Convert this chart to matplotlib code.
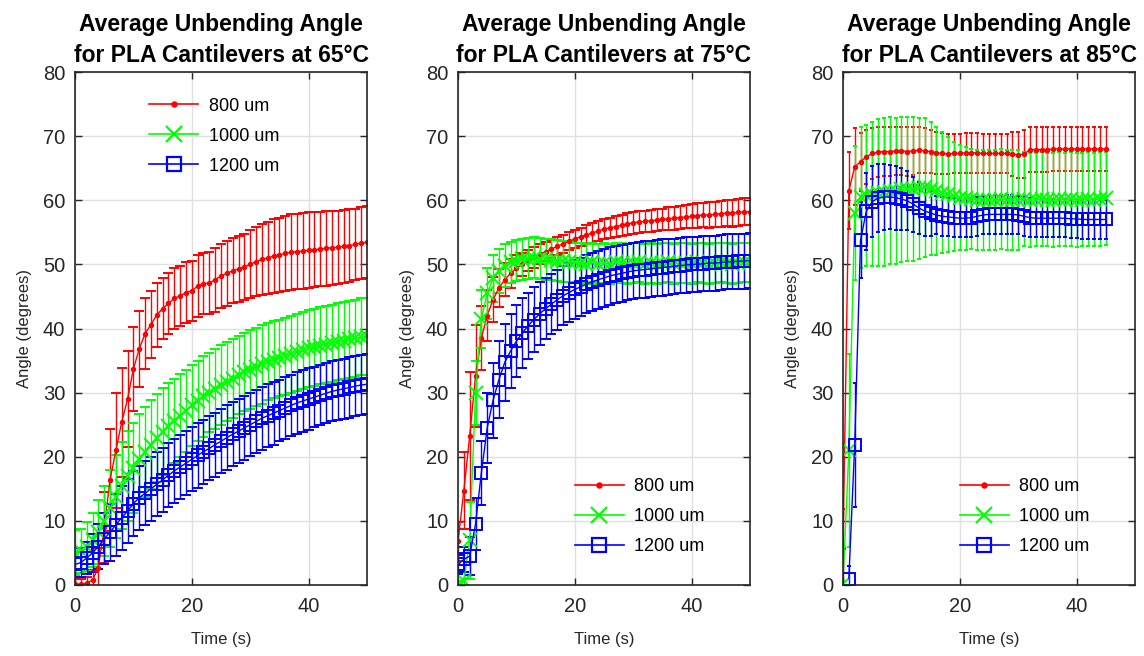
import numpy as np
import matplotlib
matplotlib.use('Agg')
import matplotlib.pyplot as plt
from matplotlib.lines import Line2D

plt.rcParams['font.family'] = ['Liberation Sans', 'DejaVu Sans']

labels = ['800 um', '1000 um', '1200 um']
temps = ['65', '75', '85']

# 65 C, t = 0..50 s
t65 = list(range(51))
red65 = [0.2, 0.1, 0.3, 0.8, 2.7, 9.0, 16.4, 21.0, 25.4, 29.0, 33.7, 36.8, 39.2, 40.6, 42.1, 43.1, 43.9,
         44.7, 45.1, 45.6, 45.9, 46.6, 47.0, 47.1, 47.6, 48.2, 48.6, 49.0, 49.3, 49.6, 50.0, 50.4, 50.8,
         51.0, 51.3, 51.5, 51.7, 51.9, 52.0, 52.1, 52.2, 52.3, 52.4, 52.5, 52.6, 52.7, 52.8, 52.9, 53.1,
         53.3, 53.5]
red65_err = [0.8, 0.8, 1.0, 1.5, 3.0, 5.5, 8.0, 9.0, 8.5, 7.5, 6.5, 6.0, 5.5, 5.2, 5.0, 4.8, 4.7, 4.7,
             4.7, 4.7, 4.7, 4.8, 4.8, 4.9, 5.0, 5.0, 5.1, 5.1, 5.2, 5.2, 5.3, 5.4, 5.5, 5.6, 5.7, 5.8, 5.8,
             5.9, 5.9, 5.9, 5.9, 5.9, 5.8, 5.8, 5.8, 5.7, 5.7, 5.7, 5.6, 5.6, 5.6]
green65 = [5.0, 5.3, 6.0, 7.0, 8.3, 10.0, 12.0, 13.8, 15.5, 17.0, 18.3, 19.6, 20.8, 21.9, 22.9, 23.9,
           24.8, 25.6, 26.4, 27.2, 28.0, 28.7, 29.4, 30.0, 30.6, 31.2, 31.7, 32.2, 32.7, 33.2, 33.6, 34.0,
           34.4, 34.8, 35.1, 35.4, 35.7, 36.0, 36.3, 36.6, 36.9, 37.1, 37.3, 37.5, 37.7, 37.9, 38.1, 38.3,
           38.5, 38.7, 38.8]
green65_err = [3.5, 3.5, 3.8, 4.2, 5.0, 5.5, 6.0, 6.5, 6.8, 7.0, 7.0, 7.0, 7.0, 7.0, 6.9, 6.8, 6.7, 6.6,
               6.5, 6.4, 6.3, 6.3, 6.3, 6.2, 6.2, 6.2, 6.2, 6.2, 6.1, 6.1, 6.1, 6.1, 6.1, 6.0, 6.0, 6.0,
               6.0, 6.0, 6.0, 6.0, 6.0, 6.0, 6.0, 6.0, 6.0, 6.0, 6.0, 6.0, 6.0, 6.0, 6.0]
blue65 = [3.2, 3.5, 4.2, 5.0, 6.0, 7.2, 8.2, 9.4, 10.5, 11.5, 12.7, 13.6, 14.3, 15.0, 15.7, 16.4, 17.1,
          17.8, 18.4, 19.0, 19.6, 20.2, 20.8, 21.3, 21.9, 22.4, 23.0, 23.5, 24.0, 24.5, 25.0, 25.5, 26.0,
          26.4, 26.8, 27.2, 27.6, 28.0, 28.4, 28.7, 29.0, 29.3, 29.6, 29.9, 30.2, 30.4, 30.6, 30.8, 31.0,
          31.2, 31.3]
blue65_err = [2.0, 2.2, 2.5, 3.0, 3.5, 4.0, 4.5, 4.8, 5.0, 5.0, 5.0, 5.0, 5.0, 5.0, 5.0, 5.0, 5.0, 5.0,
              5.0, 5.0, 5.0, 5.0, 5.0, 5.0, 5.0, 5.0, 5.0, 5.0, 5.0, 5.0, 4.9, 4.9, 4.9, 4.9, 4.9, 4.8,
              4.8, 4.8, 4.8, 4.8, 4.8, 4.7, 4.7, 4.7, 4.7, 4.7, 4.7, 4.7, 4.7, 4.7, 4.7]

# 75 C, t = 0..50 s
t75 = list(range(51))
red75 = [6.8, 14.7, 23.2, 32.6, 38.5, 42.0, 44.5, 46.3, 47.6, 48.6, 49.4, 50.0, 50.6, 51.1, 51.6, 52.0,
         52.4, 52.8, 53.2, 53.6, 54.0, 54.3, 54.6, 54.9, 55.2, 55.5, 55.7, 55.9, 56.1, 56.3, 56.5, 56.6,
         56.7, 56.8, 56.9, 57.0, 57.1, 57.2, 57.3, 57.4, 57.5, 57.6, 57.7, 57.7, 57.8, 57.9, 58.0, 58.0,
         58.1, 58.2, 58.2]
red75_err = [3.0, 6.0, 10.0, 8.0, 5.0, 4.0, 3.5, 3.0, 2.6, 2.3, 2.0, 1.8, 1.7, 1.6, 1.5, 1.5, 1.4, 1.4,
             1.4, 1.4, 1.4, 1.4, 1.5, 1.5, 1.5, 1.6, 1.6, 1.6, 1.6, 1.7, 1.7, 1.7, 1.7, 1.7, 1.7, 1.7,
             1.8, 1.8, 1.8, 1.8, 1.9, 1.9, 1.9, 2.0, 2.0, 2.0, 2.0, 2.1, 2.1, 2.1, 2.1]
green75 = [0.2, 0.6, 7.0, 30.0, 41.5, 45.5, 47.8, 49.0, 49.8, 50.3, 50.6, 50.8, 50.9, 51.0, 50.9, 50.8,
           50.7, 50.6, 50.5, 50.4, 50.3, 50.2, 50.1, 50.3, 50.0, 50.2, 50.1, 50.3, 50.2, 50.0, 50.2, 50.3,
           50.1, 50.2, 50.0, 50.2, 50.3, 50.1, 50.2, 50.2, 50.1, 50.3, 50.2, 50.1, 50.2, 50.3, 50.2, 50.1,
           50.2, 50.3, 50.3]
green75_err = [0.5, 1.5, 6.0, 5.0, 4.5, 4.0, 3.6, 3.4, 3.3, 3.2, 3.2, 3.2, 3.2, 3.2, 3.2, 3.2, 3.2, 3.2,
               3.2, 3.2, 3.1, 3.1, 3.1, 3.1, 3.1, 3.1, 3.1, 3.1, 3.1, 3.1, 3.1, 3.1, 3.1, 3.1, 3.1, 3.1,
               3.1, 3.1, 3.1, 3.1, 3.1, 3.1, 3.1, 3.1, 3.1, 3.1, 3.1, 3.1, 3.1, 3.1, 3.1]
blue75 = [3.2, 4.0, 4.5, 9.5, 17.5, 24.5, 28.8, 32.0, 34.7, 36.5, 38.0, 39.3, 40.4, 41.4, 42.3, 43.1,
          43.8, 44.5, 45.1, 45.6, 46.1, 46.5, 46.9, 47.3, 47.6, 47.9, 48.2, 48.4, 48.6, 48.8, 49.0, 49.1,
          49.2, 49.3, 49.4, 49.5, 49.6, 49.7, 49.8, 49.9, 50.0, 50.0, 50.1, 50.2, 50.2, 50.3, 50.4, 50.4,
          50.5, 50.5, 50.6]
blue75_err = [1.5, 2.0, 3.0, 4.0, 5.0, 5.5, 5.8, 6.0, 6.0, 5.8, 5.6, 5.4, 5.2, 5.0, 4.9, 4.8, 4.7, 4.7,
              4.6, 4.6, 4.6, 4.5, 4.5, 4.5, 4.5, 4.5, 4.5, 4.4, 4.4, 4.4, 4.4, 4.4, 4.4, 4.4, 4.4, 4.4,
              4.3, 4.3, 4.3, 4.3, 4.3, 4.3, 4.3, 4.3, 4.3, 4.3, 4.3, 4.3, 4.3, 4.3, 4.3]

# 85 C, t = 0..45 s (1200 um starts at 1 s)
t85 = list(range(46))
red85 = [5.8, 61.5, 65.2, 66.0, 66.8, 67.3, 67.5, 67.6, 67.6, 67.7, 67.7, 67.6, 67.7, 67.8, 67.7, 67.6,
         67.4, 67.3, 67.2, 67.3, 67.3, 67.4, 67.4, 67.4, 67.3, 67.3, 67.3, 67.3, 67.3, 67.2, 67.1, 67.2,
         67.9, 67.9, 67.9, 67.9, 68.0, 68.0, 68.0, 68.0, 68.0, 68.0, 68.0, 68.0, 68.0, 68.0]
red85_err = [6.0, 6.0, 6.0, 4.5, 4.2, 4.0, 3.9, 3.8, 3.8, 3.8, 3.8, 3.8, 3.7, 3.6, 3.5, 3.4, 3.3, 3.2,
             3.1, 3.1, 3.1, 3.1, 3.1, 3.1, 3.1, 3.1, 3.1, 3.1, 3.1, 3.4, 3.6, 3.7, 3.5, 3.5, 3.5, 3.5,
             3.5, 3.5, 3.5, 3.5, 3.5, 3.5, 3.5, 3.5, 3.5, 3.5]
green85 = [0.2, 21.0, 58.0, 60.5, 60.8, 61.0, 61.2, 61.3, 61.5, 61.5, 61.7, 61.8, 61.8, 61.9, 62.0, 61.8,
           61.5, 61.2, 60.9, 60.6, 60.4, 60.3, 60.2, 60.1, 60.0, 60.1, 60.0, 60.2, 60.1, 60.0, 60.1, 60.2,
           60.0, 60.1, 60.2, 60.1, 60.0, 60.2, 60.1, 60.2, 60.0, 60.1, 60.2, 60.1, 60.2, 60.3]
green85_err = [0.5, 15.0, 10.5, 11.0, 11.0, 11.2, 11.4, 11.5, 11.5, 11.4, 11.3, 11.2, 11.2, 11.0, 10.8,
               10.4, 10.0, 9.5, 9.0, 8.5, 8.2, 8.0, 7.8, 7.8, 7.8, 7.8, 7.8, 7.8, 7.8, 7.8, 7.8, 7.3, 7.3,
               7.3, 7.3, 7.3, 7.3, 7.3, 7.3, 7.3, 7.3, 7.3, 7.3, 7.3, 7.3, 7.3]
t85_blue = list(range(1, 46))
blue85 = [1.0, 21.8, 53.8, 58.3, 59.8, 60.3, 60.5, 60.5, 60.4, 60.2, 59.9, 59.4, 58.8, 58.3, 58.0, 57.7,
          57.5, 57.4, 57.3, 57.2, 57.2, 57.3, 57.5, 57.7, 57.8, 57.8, 57.8, 57.8, 57.8, 57.7, 57.5, 57.3,
          57.2, 57.2, 57.2, 57.2, 57.2, 57.2, 57.1, 57.1, 57.0, 57.0, 57.0, 57.0, 57.0]
blue85_err = [2.0, 9.7, 6.0, 6.0, 5.5, 5.3, 5.2, 5.0, 5.0, 4.8, 4.6, 4.3, 4.0, 3.8, 3.5, 3.0, 3.0, 3.0,
              3.0, 3.0, 3.0, 3.0, 3.0, 3.0, 3.0, 3.0, 3.0, 3.0, 3.0, 3.0, 3.0, 3.0, 3.0, 3.0, 3.0, 3.0,
              3.0, 3.0, 3.0, 3.0, 3.0, 3.0, 3.0, 3.0, 3.0]

panels = [
    [(t65, red65, red65_err), (t65, green65, green65_err), (t65, blue65, blue65_err)],
    [(t75, red75, red75_err), (t75, green75, green75_err), (t75, blue75, blue75_err)],
    [(t85, red85, red85_err), (t85, green85, green85_err), (t85_blue, blue85, blue85_err)],
]

colors = ['#ff0000', '#00ff00', '#0000ff']
markers = ['.', 'x', 's']
msizes = [5, 10, 9]
caps = [3.6, 3.6, 1.5]

fig = plt.figure(figsize=(11.44, 6.56), dpi=100)
lefts = [75 / 1144, 458 / 1144, 843 / 1144]
axes = [fig.add_axes([l, 1 - 585 / 656, 292 / 1144, 513 / 656]) for l in lefts]

for i, ax in enumerate(axes):
    handles = []
    for j in range(3):
        t, y, e = panels[i][j]
        face = 'none' if j == 2 else colors[j]
        ax.errorbar(t, y, yerr=e, color=colors[j], marker=markers[j], markersize=msizes[j],
                    markerfacecolor=face, markeredgewidth=1.4,
                    linewidth=1, elinewidth=1, capsize=caps[i], capthick=1)
        handles.append(Line2D([], [], color=colors[j], marker=markers[j], markersize=msizes[j] + 1,
                              markerfacecolor=face, markeredgewidth=1.6, linewidth=1.2,
                              label=labels[j]))
    ax.set_xlim(0, 50)
    ax.set_ylim(0, 80)
    ax.set_xticks([0, 20, 40])
    ax.set_yticks(range(0, 81, 10))
    ax.grid(True, color='#e0e0e0', linewidth=1)
    ax.set_axisbelow(True)
    ax.tick_params(direction='in', top=True, right=True, labelsize=14.5, length=5, width=1,
                   colors='#262626', pad=7)
    ax.tick_params(axis='x', pad=9)
    for s in ax.spines.values():
        s.set_color('#262626')
        s.set_linewidth(1.2)
    ax.set_xlabel('Time (s)', fontsize=12, color='#262626', labelpad=11)
    ax.set_ylabel('Angle (degrees)', fontsize=12, color='#262626', labelpad=8)
    ax.set_title('Average Unbending Angle\nfor PLA Cantilevers at ' + temps[i] + '°C',
                 fontsize=16.5, fontweight='bold', pad=7, linespacing=1.45)
    if i == 0:
        ax.legend(handles=handles, loc='upper left', bbox_to_anchor=(0.255, 0.95), fontsize=13,
                  handlelength=2.7, handletextpad=0.6, labelspacing=0.72, borderpad=0,
                  borderaxespad=0, frameon=False)
    else:
        ax.legend(handles=handles, loc='lower left', bbox_to_anchor=(0.40, 0.058), fontsize=13,
                  handlelength=2.7, handletextpad=0.6, labelspacing=0.72, borderpad=0,
                  borderaxespad=0, frameon=False)

fig.savefig('out.png', dpi=100)
